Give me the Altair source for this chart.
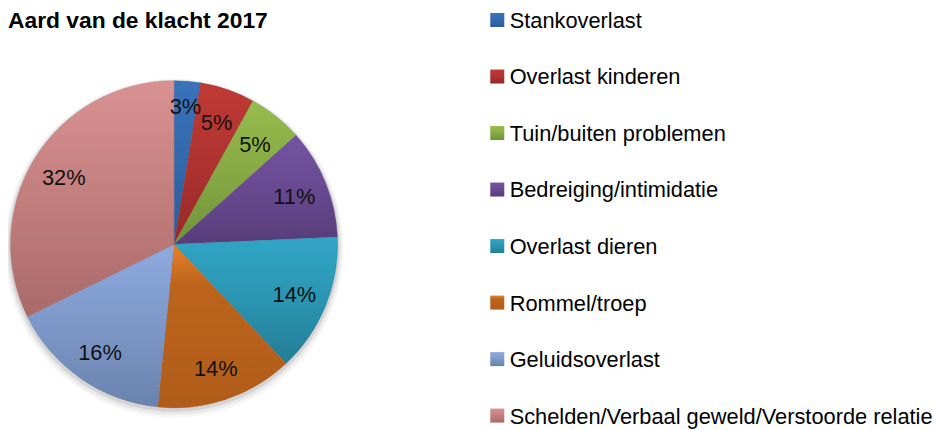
import altair as alt
import pandas as pd

# ---- data ----
title_text = "Aard van de klacht 2017"
categories = [
    "Stankoverlast",
    "Overlast kinderen",
    "Tuin/buiten problemen",
    "Bedreiging/intimidatie",
    "Overlast dieren",
    "Rommel/troep",
    "Geluidsoverlast",
    "Schelden/Verbaal geweld/Verstoorde relatie",
]
values = [2.6, 5.4, 5.4, 10.9, 13.7, 13.6, 16.1, 32.3]

# gradient colours (top -> bottom) per category
colors_top = ["#3A73BA", "#C03A34", "#96BC4C", "#7553A3", "#31A5C5", "#E8822C", "#8EAADF", "#D89292"]
colors_mid = ["#3368AA", "#AE3330", "#86A944", "#68498F", "#2B95B2", "#BC641C", "#7D97C8", "#C27E7D"]
colors_bottom = ["#2C5D9B", "#962A29", "#72913A", "#573D7A", "#247C95", "#B05C1A", "#6A82AD", "#A96A69"]

df = pd.DataFrame({"cat": categories, "value": values, "idx": list(range(len(categories)))})

W, H = 935, 422
CX, CY, R = 167.5, 236.5, 165
FONT = "Liberation Sans"

base = (
    alt.Chart(df)
    .transform_window(end="sum(value)", sort=[alt.SortField("idx")], frame=[None, 0])
    .transform_calculate(
        start="datum.end - datum.value",
        mid="datum.end - datum.value / 2",
        label="format(datum.value, '.0f') + '%'",
    )
)

theta_scale = alt.Scale(domain=[0, 100])
legend_y = alt.Y(
    "cat:N",
    sort=categories,
    scale=alt.Scale(type="point", domain=categories, range=[10.3, 409.3], padding=0),
    axis=None,
)

layers = []

# soft shadow under the pie
for extra, dx, dy, op in [(6, 0, 4, 0.035), (4, 0, 3, 0.05), (2, 0, 2, 0.09)]:
    layers.append(
        base.mark_arc(outerRadius=R + extra, color="#000000", opacity=op).encode(
            theta=alt.Theta("start:Q", scale=theta_scale),
            theta2="end:Q",
            x=alt.value(CX + dx),
            y=alt.value(CY + dy),
        )
    )

for i in range(len(categories)):
    mid_off = 0.25 if i == 5 else 0.5
    grad = {
        "gradient": "linear",
        "x1": 0, "y1": 0, "x2": 0, "y2": 1,
        "stops": [
            {"offset": 0, "color": colors_top[i]},
            {"offset": mid_off, "color": colors_mid[i]},
            {"offset": 1, "color": colors_bottom[i]},
        ],
    }
    sub = base.transform_filter(alt.datum.idx == i)
    layers.append(
        sub.mark_arc(outerRadius=R, fill=grad, stroke=colors_bottom[i], strokeWidth=0.3).encode(
            theta=alt.Theta("start:Q", scale=theta_scale),
            theta2="end:Q",
            x=alt.value(CX),
            y=alt.value(CY),
        )
    )
    layers.append(
        sub.mark_square(size=200, fill=grad, opacity=1).encode(
            y=legend_y,
            x=alt.value(493.5),
        )
    )

# labels inside the pie (the narrow first slice gets its label pushed outward)
for flt, rad in [(alt.datum.idx == 0, 141), (alt.datum.idx != 0, 131)]:
    layers.append(
        base.transform_filter(flt)
        .mark_text(radius=rad, fontSize=22, font=FONT, color="#111111", align="center", baseline="middle", dy=2)
        .encode(
            theta=alt.Theta("mid:Q", scale=theta_scale),
            text="label:N",
            x=alt.value(CX),
            y=alt.value(CY),
        )
    )

# legend labels
layers.append(
    base.mark_text(align="left", baseline="middle", fontSize=22, font=FONT, color="#000000", dy=1).encode(
        y=legend_y,
        x=alt.value(506),
        text="cat:N",
    )
)

# title
layers.append(
    alt.Chart(pd.DataFrame({"t": [title_text]}))
    .mark_text(align="left", baseline="alphabetic", fontSize=23, fontWeight="bold", font=FONT, color="#000000")
    .encode(text="t:N", x=alt.value(0), y=alt.value(18.5))
)

chart = (
    alt.layer(*layers)
    .properties(width=W, height=H, autosize=alt.AutoSizeParams(type="none"), padding=0, background="white")
    .configure_view(stroke=None)
)

chart.save("out.html", embed_options={"renderer": "svg", "actions": False})
